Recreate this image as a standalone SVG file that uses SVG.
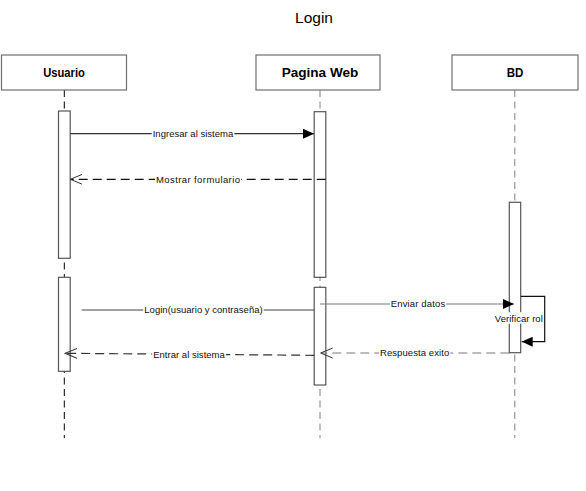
<svg xmlns="http://www.w3.org/2000/svg" width="586" height="491" viewBox="0 0 586 491">
<style>
.title{font-family:"Liberation Sans",Arial,sans-serif;font-size:15.5px;fill:#000;text-anchor:middle}
.hdr{font-family:"Liberation Sans",Arial,sans-serif;font-size:12.5px;font-weight:bold;fill:#000;text-anchor:middle}
.lbl{font-family:"Liberation Sans",Arial,sans-serif;font-size:9.5px;fill:#111;text-anchor:middle}
.box{fill:#fff;stroke:#6e6e6e;stroke-width:1.2}
.act{fill:#fff;stroke:#555;stroke-width:1.2}
.life{fill:none;stroke-width:1;stroke-dasharray:7 4.5}
.bg{fill:#fff}
.msg{fill:none;stroke-width:1.2}
.dash{stroke-dasharray:9 5}
</style>
<defs>
<marker id="fa" markerUnits="userSpaceOnUse" markerWidth="11" markerHeight="10" refX="11" refY="5" orient="auto">
<path d="M0,0 L11,5 L0,10 z" fill="#000"/>
</marker>
<marker id="oa" markerUnits="userSpaceOnUse" markerWidth="13" markerHeight="12" refX="12" refY="6" orient="auto">
<path d="M0,1 L12,6 L0,11" fill="none" stroke="#333" stroke-width="1"/>
</marker>
</defs>

<text class="title" x="314" y="23.3">Login</text>

<g id="usuario">
<line class="life" x1="64.3" y1="90" x2="64.3" y2="438" stroke="#000"/>
<rect class="box" x="1.5" y="55" width="125" height="35"/>
<text class="hdr" x="64" y="76.7" textLength="41.7" lengthAdjust="spacingAndGlyphs">Usuario</text>
<rect class="act" x="58.5" y="111" width="11.7" height="147.3"/>
<rect class="act" x="58.5" y="277.3" width="11.7" height="94"/>
</g>

<g id="pagina-web">
<line class="life" x1="320" y1="90" x2="320" y2="438" stroke="#808080"/>
<rect class="box" x="256" y="55" width="124" height="35"/>
<text class="hdr" x="320" y="76.7" textLength="76.6" lengthAdjust="spacingAndGlyphs">Pagina Web</text>
<rect class="act" x="314.2" y="111.7" width="11.6" height="165.6"/>
<rect class="act" x="314.2" y="287.3" width="11.6" height="97.7"/>
</g>

<g id="bd">
<line class="life" x1="514.8" y1="90" x2="514.8" y2="438" stroke="#808080"/>
<rect class="box" x="452" y="55" width="126" height="35"/>
<text class="hdr" x="515" y="76.7" textLength="16.7" lengthAdjust="spacingAndGlyphs">BD</text>
<rect class="act" x="509.3" y="202.3" width="11.4" height="150.4"/>
</g>

<g id="connectors">
<line class="msg" x1="70.2" y1="133.7" x2="314" y2="133.7" stroke="#333" marker-end="url(#fa)"/>
<line class="msg dash" x1="325.7" y1="179.3" x2="70.4" y2="179.3" stroke="#111" marker-end="url(#oa)"/>
<line class="msg" x1="81.7" y1="310" x2="314.2" y2="310" stroke="#444"/>
<line class="msg" x1="320" y1="304" x2="514" y2="304" stroke="#7a7a7a" marker-end="url(#fa)"/>
<path class="msg" d="M520.7,296.3 L544.7,296.3 L544.7,341.7 L521.7,341.7" stroke="#111" marker-end="url(#fa)"/>
<line class="msg dash" x1="509.3" y1="353" x2="320.7" y2="353" stroke="#7a7a7a" marker-end="url(#oa)"/>
<line class="msg dash" x1="314.2" y1="355.3" x2="65" y2="353.3" stroke="#333" marker-end="url(#oa)"/>

<rect class="bg" x="151.7" y="129" width="82.6" height="10"/>
<text class="lbl" x="193" y="137.1" textLength="80.6">Ingresar al sistema</text>
<rect class="bg" x="155" y="174.7" width="86" height="10"/>
<text class="lbl" x="198" y="182.7" textLength="84">Mostrar formulario</text>
<rect class="bg" x="143.3" y="305.4" width="120.4" height="10"/>
<text class="lbl" x="203.5" y="313.4" textLength="118.4">Login(usuario y contraseña)</text>
<rect class="bg" x="389.8" y="299.4" width="56.3" height="10"/>
<text class="lbl" x="418" y="307.4" textLength="54.3">Enviar datos</text>
<rect class="bg" x="494.5" y="312.2" width="49.5" height="11.5"/>
<text class="lbl" x="518.8" y="321.7" textLength="48">Verificar rol</text>
<rect class="bg" x="379" y="348.4" width="71.3" height="10"/>
<text class="lbl" x="414.6" y="356.4" textLength="69.3">Respuesta exito</text>
<rect class="bg" x="152.2" y="349.5" width="73.7" height="10"/>
<text class="lbl" x="189" y="357.5" textLength="71.7">Entrar al sistema</text>
</g>
</svg>
